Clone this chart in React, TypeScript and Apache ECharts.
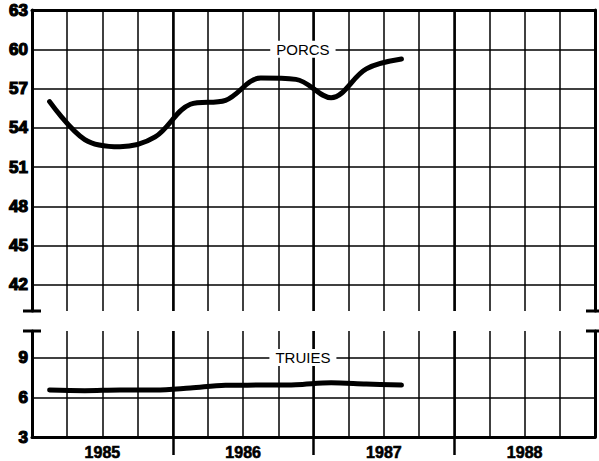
import React, { useEffect, useRef } from 'react';
import * as echarts from 'echarts';

const quarters = [
  '1985 T1', '1985 T2', '1985 T3', '1985 T4',
  '1986 T1', '1986 T2', '1986 T3', '1986 T4',
  '1987 T1', '1987 T2', '1987 T3', '1987 T4',
  '1988 T1', '1988 T2', '1988 T3', '1988 T4',
];
const years = ['1985', '1986', '1987', '1988'];
const porcs = [56.0, 53.1, 52.55, 53.3, 55.8, 56.1, 57.8, 57.7, 56.3, 58.5, 59.25];
const truies = [6.55, 6.5, 6.55, 6.55, 6.7, 6.9, 6.92, 6.95, 7.1, 7.0, 6.92];
const porcsTicks = [42, 45, 48, 51, 54, 57, 60, 63];
const porcsGridLines = [42, 45, 48, 51, 54, 57, 60];
const truiesTicks = [3, 6, 9];
const truiesGridLines = [6, 9];
const porcsRange = [40, 63];
const truiesRange = [3, 11];

const W = 599;
const H = 461;
const LEFT = 32;
const RIGHT = 4;
const TOP1 = 10;
const BOTTOM1 = 311;
const TOP2 = 331;
const BOTTOM2 = 437;
const TICK_LEN = 18;
const FONT = 'Liberation Sans, Arial, Helvetica, sans-serif';

export default function App() {
  const ref = useRef<HTMLDivElement>(null);
  useEffect(() => {
    const chart = echarts.init(ref.current!, null, { renderer: 'svg' });
    const thin = { color: '#000', width: 1.5, type: 'solid' as const };
    const thick = { color: '#000', width: 2.5, type: 'solid' as const };
    const clear = 'rgba(0,0,0,0)';

    const qAxis = (gridIndex: number, position: string) => ({
      type: 'category',
      gridIndex,
      position,
      data: quarters,
      boundaryGap: true,
      axisLine: { show: false },
      axisTick: { show: false },
      axisLabel: { show: false },
      splitLine: { show: true, interval: 0, lineStyle: thin },
    });

    const capSymbol = (atStart: boolean) => ({
      show: true,
      onZero: false,
      lineStyle: { color: '#000', width: 3 },
      symbol: atStart ? ['rect', 'none'] : ['none', 'rect'],
      symbolSize: [18, 3],
    });

    const yLabel = (ticks: number[]) => ({
      show: true,
      margin: 4,
      color: '#000',
      fontFamily: FONT,
      fontWeight: 'bold',
      fontSize: 17,
      textBorderColor: '#000',
      textBorderWidth: 1.2,
      formatter: (v: number) => (ticks.includes(v) ? String(v) : ''),
    });

    const makeY = (gridIndex: number, range: number[], ticks: number[], position: string, withLabels: boolean, capAtStart: boolean) => ({
      type: 'value',
      gridIndex,
      position,
      min: range[0],
      max: range[1],
      interval: 1,
      axisLine: capSymbol(capAtStart),
      axisTick: { show: false },
      splitLine: { show: false },
      axisLabel: withLabels ? yLabel(ticks) : { show: false },
    });

    const hLines = (vals: number[]) => ({
      silent: true,
      symbol: ['none', 'none'],
      label: { show: false },
      lineStyle: thin,
      data: vals.map((v) => ({ yAxis: v })),
    });

    const textMark = (text: string, coord: [string, number]) => ({
      silent: true,
      symbol: 'circle',
      symbolSize: 0,
      data: [
        {
          coord,
          label: {
            show: true,
            position: 'inside',
            offset: [7, 0],
            formatter: text,
            color: '#000',
            fontFamily: FONT,
            fontSize: 15,
            backgroundColor: '#fff',
            padding: [1, 6, 1, 6],
          },
        },
      ],
    });

    chart.setOption({
      animation: false,
      backgroundColor: '#fff',
      textStyle: { fontFamily: FONT },
      grid: [
        { left: LEFT, right: RIGHT, top: TOP1, height: BOTTOM1 - TOP1, containLabel: false },
        { left: LEFT, right: RIGHT, top: TOP2, height: BOTTOM2 - TOP2, containLabel: false },
        { left: LEFT, right: RIGHT, top: BOTTOM2, height: TICK_LEN, containLabel: false },
      ],
      xAxis: [
        qAxis(0, 'bottom'),
        {
          type: 'category',
          gridIndex: 0,
          position: 'top',
          data: years,
          boundaryGap: true,
          axisLine: { show: true, onZero: false, lineStyle: { color: '#000', width: 3 } },
          axisTick: { show: false },
          axisLabel: { show: false },
          splitLine: { show: true, interval: 0, lineStyle: thick },
        },
        qAxis(1, 'top'),
        {
          type: 'category',
          gridIndex: 1,
          position: 'bottom',
          data: years,
          boundaryGap: true,
          axisLine: { show: true, onZero: false, lineStyle: { color: '#000', width: 3 } },
          axisTick: { show: false },
          axisLabel: {
            show: true,
            interval: 0,
            margin: 7,
            color: '#000',
            fontFamily: FONT,
            fontWeight: 'bold',
            fontSize: 16,
            textBorderColor: '#000',
            textBorderWidth: 0.6,
          },
          splitLine: { show: true, interval: 0, lineStyle: thick },
        },
        {
          type: 'category',
          gridIndex: 2,
          position: 'bottom',
          data: years,
          boundaryGap: true,
          axisLine: { show: false },
          axisTick: { show: false },
          axisLabel: { show: false },
          splitLine: {
            show: true,
            interval: 0,
            lineStyle: { width: 2.5, type: 'solid', color: [clear, '#000', '#000', '#000', clear] },
          },
        },
      ],
      yAxis: [
        makeY(0, porcsRange, porcsTicks, 'left', true, true),
        makeY(0, porcsRange, porcsTicks, 'right', false, true),
        makeY(1, truiesRange, truiesTicks, 'left', true, false),
        makeY(1, truiesRange, truiesTicks, 'right', false, false),
        { type: 'value', gridIndex: 2, min: 0, max: 1, show: false },
      ],
      series: [
        {
          name: 'PORCS',
          type: 'line',
          xAxisIndex: 0,
          yAxisIndex: 0,
          data: porcs,
          smooth: 0.35,
          showSymbol: false,
          lineStyle: { color: '#000', width: 5, cap: 'round', join: 'round' },
          z: 5,
          markLine: hLines(porcsGridLines),
          markPoint: textMark('PORCS', [quarters[7], 60]),
        },
        {
          name: 'TRUIES',
          type: 'line',
          xAxisIndex: 2,
          yAxisIndex: 2,
          data: truies,
          smooth: 0.35,
          showSymbol: false,
          lineStyle: { color: '#000', width: 5, cap: 'round', join: 'round' },
          z: 5,
          markLine: hLines(truiesGridLines),
          markPoint: textMark('TRUIES', [quarters[7], 9]),
        },
      ],
    });
    return () => chart.dispose();
  }, []);
  return (
    <div
      ref={ref}
      style={{ position: 'fixed', left: 0, top: 0, width: W, height: H, background: '#fff' }}
    />
  );
}
